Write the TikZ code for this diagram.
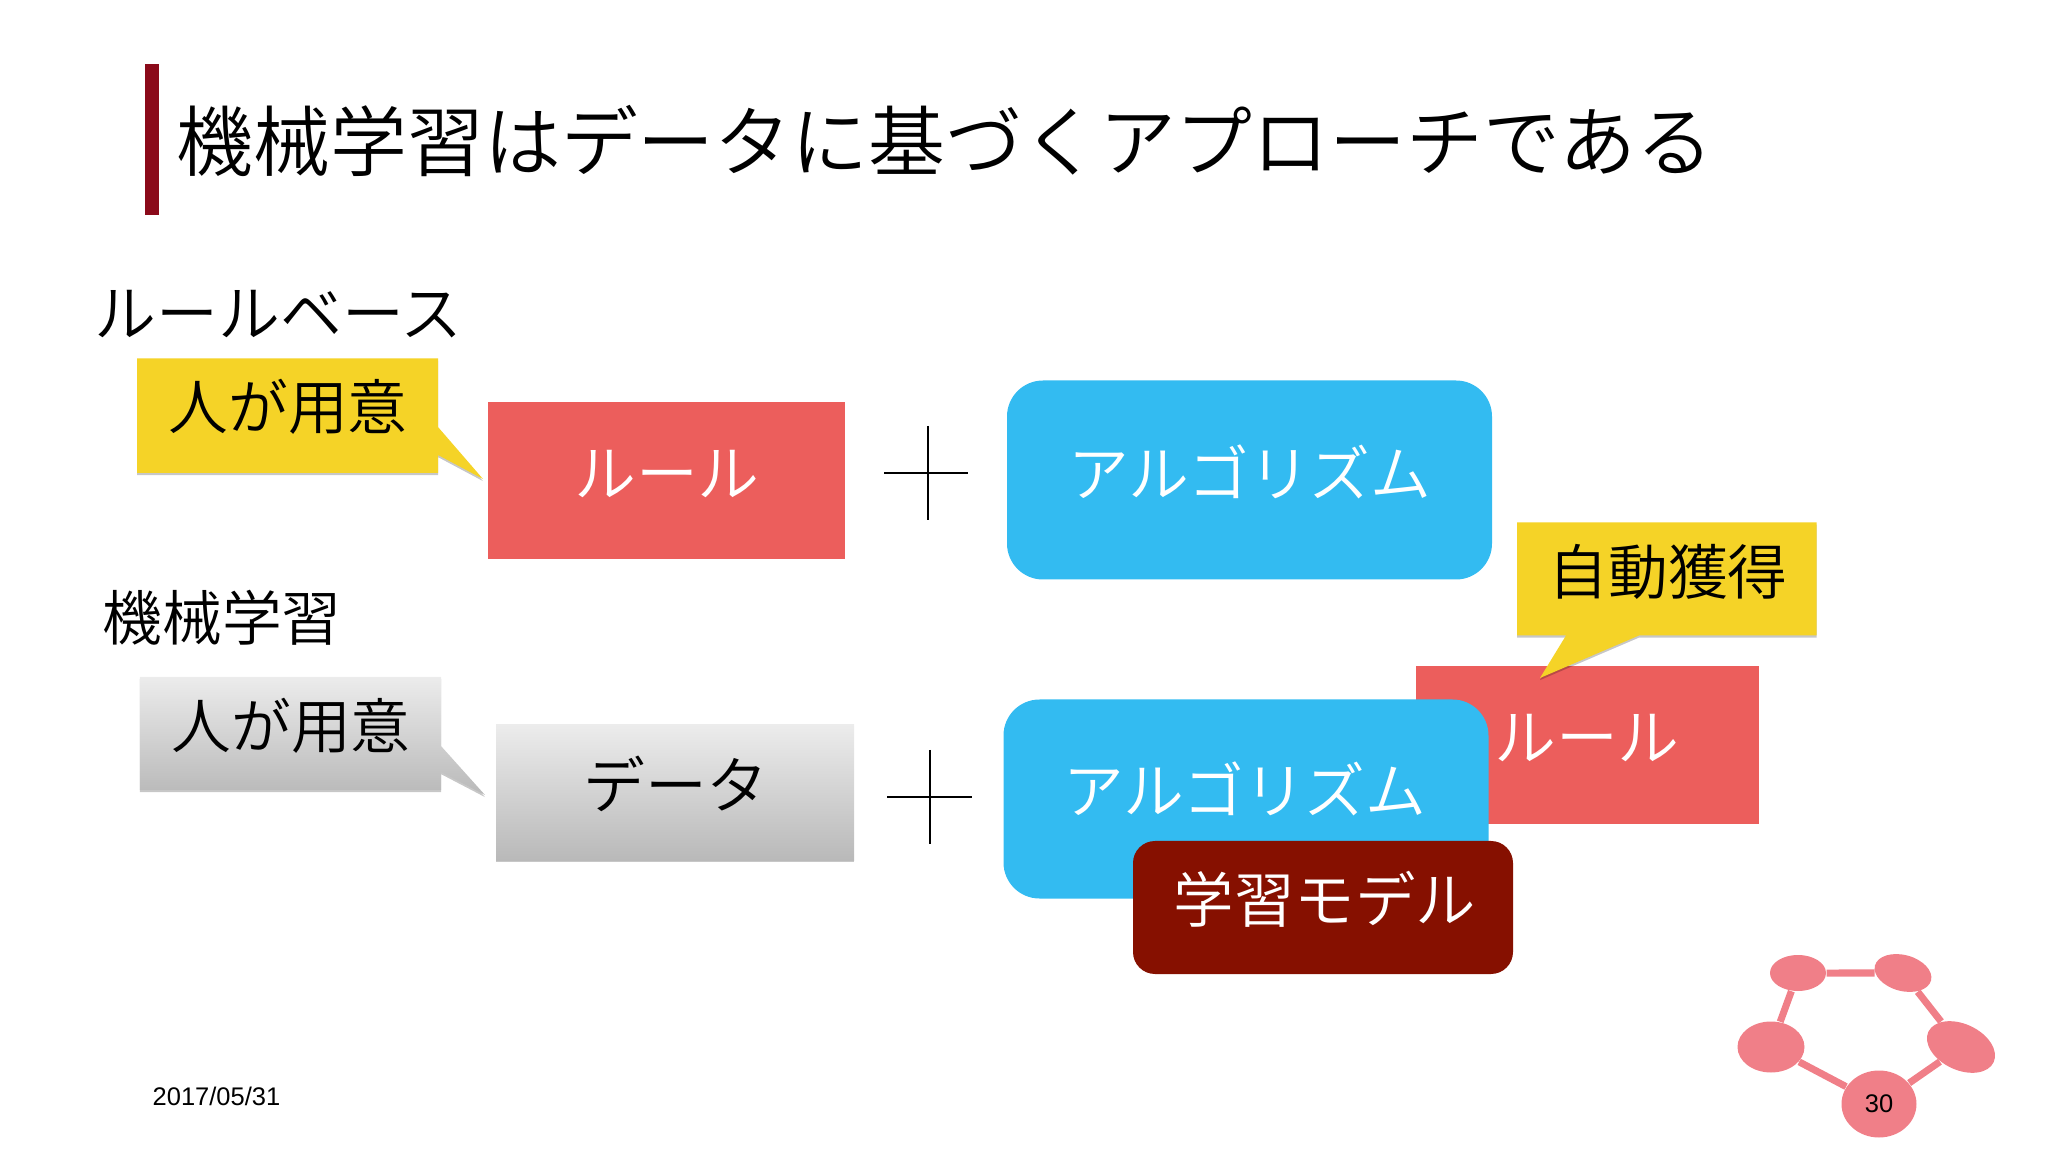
\documentclass[tikz,border=0pt]{standalone}
\usepackage{fontspec}
\setmainfont{Liberation Sans}
\newfontfamily\cjk{Noto Sans CJK JP}[UprightFont=* DemiLight]
\usetikzlibrary{shapes.geometric,shadows}
\definecolor{barred}{HTML}{8B0A1A}
\definecolor{rulered}{HTML}{EC5E5C}
\definecolor{algoblue}{HTML}{33BBF1}
\definecolor{noteyellow}{HTML}{F5D327}
\definecolor{modelred}{HTML}{861000}
\definecolor{netpink}{HTML}{F07F88}
\tikzset{
  softshadow/.style={drop shadow={shadow xshift=0pt,shadow yshift=-.6pt,fill=black,opacity=.22}},
  bodytxt/.style={font=\cjk\fontsize{17}{20}\selectfont,inner sep=0pt,anchor=center},
  katatxt/.style={bodytxt,font=\cjk\fontsize{17.6}{20}\selectfont},
  whitetxt/.style={katatxt,text=white},
  algotxt/.style={whitetxt,font=\cjk\fontsize{17.3}{20}\selectfont},
  rulebox/.style={fill=rulered,inner sep=0pt},
  algobox/.style={fill=algoblue,rounded corners=.36cm,inner sep=0pt,minimum width=4.85cm,minimum height=1.99cm},
  graybox/.style={top color=gray!15,bottom color=gray!55,softshadow},
  yellownote/.style={fill=noteyellow,softshadow},
  netnode/.style={ellipse,fill=netpink,inner sep=0pt},
  netedge/.style={netpink,line width=.07cm}
}
\begin{document}
\begin{tikzpicture}
\useasboundingbox (0,0) rectangle (20.48,-11.52);
% title
\fill[barred] (1.45,-0.64) rectangle (1.59,-2.15);
\node[font=\cjk\fontsize{21.87}{26}\selectfont,inner sep=0pt,anchor=west] (title) at (1.76,-1.41) {機械学習はデータに基づくアプローチである};
% rule based row
\node[katatxt,anchor=west] (rulebased) at (0.94,-3.14) {ルールベース};
\path[yellownote] (1.37,-3.585) -- (4.38,-3.585) -- (4.38,-4.27) -- (4.83,-4.79) -- (4.38,-4.55) -- (4.38,-4.73) -- (1.37,-4.73) -- cycle;
\node[bodytxt] (human1) at (2.88,-4.07) {人が用意};
\node[rulebox,minimum width=3.57cm,minimum height=1.57cm] (rule1) at (6.665,-4.81) {};
\node[whitetxt] (rule1txt) at (6.67,-4.74) {ルール};
\draw (8.84,-4.73) -- (9.68,-4.73);
\draw (9.28,-4.26) -- (9.28,-5.20);
\node[algobox] (algo1) at (12.495,-4.80) {};
\node[algotxt] (algo1txt) at (12.50,-4.72) {アルゴリズム};
% machine learning row
\node[bodytxt,anchor=west] (mltxt) at (1.02,-6.18) {機械学習};
\path[graybox] (1.40,-6.77) -- (4.41,-6.77) -- (4.41,-7.46) -- (4.85,-7.95) -- (4.41,-7.72) -- (4.41,-7.90) -- (1.40,-7.90) -- cycle;
\node[bodytxt] (human2) at (2.91,-7.26) {人が用意};
\path[graybox] (4.96,-7.25) rectangle (8.54,-8.60);
\node[katatxt] (data) at (6.76,-7.84) {データ};
\draw (8.87,-7.97) -- (9.72,-7.97);
\draw (9.30,-7.50) -- (9.30,-8.44);
% rule that is learned
\node[rulebox,minimum width=3.43cm,minimum height=1.57cm] (rule2) at (15.87,-7.45) {};
\node[whitetxt] (rule2txt) at (15.87,-7.38) {ルール};
\path[yellownote] (15.17,-5.225) -- (18.165,-5.225) -- (18.165,-6.355) -- (16.39,-6.355) -- (15.40,-6.78) -- (15.66,-6.355) -- (15.17,-6.355) -- cycle;
\node[bodytxt] (auto) at (16.68,-5.72) {自動獲得};
\node[algobox] (algo2) at (12.46,-7.99) {};
\node[algotxt] (algo2txt) at (12.45,-7.89) {アルゴリズム};
\node[fill=modelred,rounded corners=.22cm,inner sep=0pt,minimum width=3.80cm,minimum height=1.33cm] (model) at (13.23,-9.075) {};
\node[whitetxt,font=\cjk\fontsize{17.2}{20}\selectfont] (modeltxt) at (13.25,-8.99) {学習モデル};
% footer
\node[font=\fontsize{7.25}{9}\selectfont,inner sep=0pt,anchor=west] (date) at (1.52,-10.96) {2017/05/31};
\node[netnode,minimum width=.56cm,minimum height=.36cm] (net1) at (17.98,-9.73) {};
\node[netnode,minimum width=.58cm,minimum height=.36cm,rotate=-15] (net2) at (19.03,-9.73) {};
\node[netnode,minimum width=.67cm,minimum height=.51cm] (net3) at (17.71,-10.47) {};
\node[netnode,minimum width=.72cm,minimum height=.46cm,rotate=-25] (net4) at (19.61,-10.47) {};
\node[netnode,minimum width=.75cm,minimum height=.67cm,font=\fontsize{7.25}{9}\selectfont] (net5) at (18.79,-11.04) {30};
\draw[netedge] (net1) -- (net2);
\draw[netedge] (net2) -- (net4);
\draw[netedge] (net4) -- (net5);
\draw[netedge] (net5) -- (net3);
\draw[netedge] (net3) -- (net1);
\end{tikzpicture}
\end{document}
